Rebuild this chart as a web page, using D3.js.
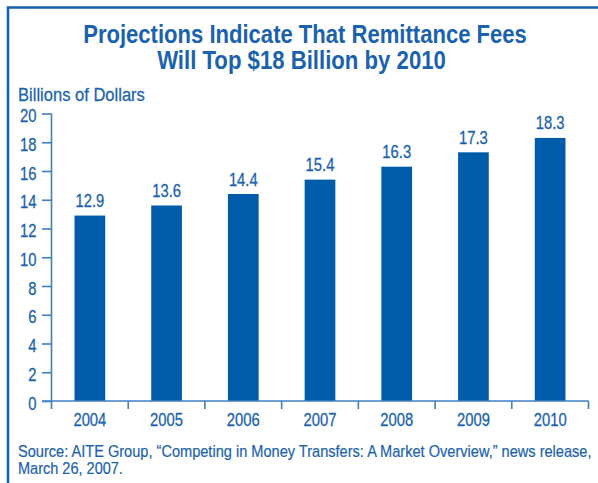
<!DOCTYPE html>
<html><head><meta charset="utf-8">
<script src="https://cdn.jsdelivr.net/npm/d3@7"></script>
<style>
html,body{margin:0;padding:0;background:#fff;}
svg text{font-family:"Liberation Sans",Arial,sans-serif;}
</style></head>
<body>
<script>
const years = ["2004","2005","2006","2007","2008","2009","2010"];
const fees = [12.9, 13.6, 14.4, 15.4, 16.3, 17.3, 18.3];
const valueLabels = ["12.9","13.6","14.4","15.4","16.3","17.3","18.3"];
const yTicks = [0,2,4,6,8,10,12,14,16,18,20];
const titleLines = ["Projections Indicate That Remittance Fees","Will Top $18 Billion by 2010"];
const yAxisTitle = "Billions of Dollars";
const sourceLines = ["Source: AITE Group, \u201cCompeting in Money Transfers: A Market Overview,\u201d news release,","March 26, 2007."];

const W = 598, H = 483;
const textCol = "#1b62ae", barCol = "#005ba9", axisCol = "#3f7fc2", frameCol = "#1463b0";
const NUM_SX = 0.8, NUM_FS = 18.5;
const svg = d3.select("body").append("svg").attr("width", W).attr("height", H);

// squeeze a text horizontally to a target width (condensed look)
function fit(sel, tx, ty, target) {
  sel.each(function(d, i) {
    const t = d3.select(this);
    const w = this.getComputedTextLength();
    const s = typeof target === "function" ? target(d, i) / w : target;
    t.attr("transform", `translate(${tx(d,i)},${ty(d,i)}) scale(${s},1)`);
  });
}

// frame (left and top)
svg.append("path").attr("d", `M8,${H} V7.5 H${W}`).attr("fill","none").attr("stroke",frameCol).attr("stroke-width",2.6);

// title
const tl = [{t:titleLines[0], y:43, len:444, cx:305},{t:titleLines[1], y:69, len:289, cx:301.5}];
svg.selectAll("text.title").data(tl).join("text").attr("class","title")
  .attr("text-anchor","middle").attr("font-size",25.5).attr("font-weight","bold").attr("fill",textCol)
  .text(d=>d.t)
  .call(fit, d=>d.cx, d=>d.y, d=>d.len);

svg.append("text").datum(yAxisTitle).attr("font-size",18).attr("fill",textCol)
  .attr("stroke",textCol).attr("stroke-width",0.25).text(d=>d)
  .call(fit, ()=>18, ()=>100.5, ()=>127);

const x0 = 51.5, x1 = 588.5, y0 = 401, y1 = 113.5;
const x = d3.scaleBand().domain(years).range([x0, x1]).paddingInner(0.6).paddingOuter(0.3);
const y = d3.scaleLinear().domain([0,20]).range([y0, y1]);

// bars
svg.selectAll("rect.bar").data(fees).join("rect").attr("class","bar")
  .attr("x",(d,i)=>x(years[i])).attr("width",x.bandwidth())
  .attr("y",d=>y(d)).attr("height",d=>y0-y(d)).attr("fill",barCol);

// value labels
svg.selectAll("text.val").data(fees).join("text").attr("class","val")
  .attr("text-anchor","middle").attr("font-size",NUM_FS).attr("fill",textCol)
  .attr("stroke",textCol).attr("stroke-width",0.3)
  .text((d,i)=>valueLabels[i])
  .call(fit, (d,i)=>x(years[i])+x.bandwidth()/2, d=>y(d)-8.5, NUM_SX);

// y axis
const yAxis = d3.axisLeft(y).tickValues(yTicks).tickSize(9.5).tickPadding(6).tickFormat(d3.format("d"));
const gy = svg.append("g").attr("transform",`translate(${x0},0)`).call(yAxis);
gy.select(".domain").attr("d",`M0,${y1}V${y0+8}`).attr("stroke",axisCol).attr("stroke-width",1.6);
gy.selectAll(".tick line").attr("stroke",axisCol).attr("stroke-width",1.6);
gy.selectAll(".tick text").attr("font-size",NUM_FS).attr("fill",textCol).attr("font-family",null)
  .attr("stroke",textCol).attr("stroke-width",0.3)
  .attr("x",0).attr("dy",null).attr("text-anchor","end")
  .attr("transform", `translate(-15,8) scale(${NUM_SX},1)`);

// x axis with separator ticks
const xs = d3.scaleLinear().domain([0, years.length]).range([x0, x1]);
const gx = svg.append("g").attr("transform",`translate(0,${y0})`);
gx.append("line").attr("x1",x0-9.5).attr("x2",x1).attr("y1",0).attr("y2",0).attr("stroke",axisCol).attr("stroke-width",1.6);
gx.selectAll("line.sep").data(d3.range(1, years.length+1)).join("line").attr("class","sep")
  .attr("x1",d=>xs(d)).attr("x2",d=>xs(d)).attr("y1",0).attr("y2",8).attr("stroke",axisCol).attr("stroke-width",1.6);
gx.selectAll("text").data(years).join("text")
  .attr("text-anchor","middle").attr("font-size",NUM_FS).attr("fill",textCol)
  .attr("stroke",textCol).attr("stroke-width",0.3).text(d=>d)
  .call(fit, d=>x(d)+x.bandwidth()/2, ()=>25, NUM_SX);

// source
svg.selectAll("text.src").data(sourceLines).join("text").attr("class","src")
  .attr("font-size",16).attr("fill",textCol).attr("stroke",textCol).attr("stroke-width",0.2).text(d=>d)
  .call(fit, ()=>18, (d,i)=>457+i*16.5, (d,i)=>i===0?574:105);
</script>
</body></html>
